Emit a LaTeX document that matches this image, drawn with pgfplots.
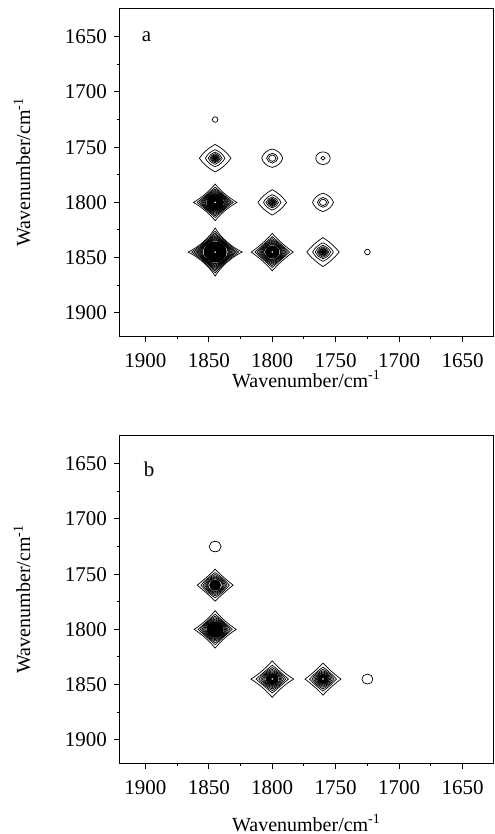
\documentclass[border=0pt]{standalone}
\usepackage{fontspec}
\setmainfont{Liberation Serif}
\usepackage{pgfplots}
\usepackage{pgfplotstable}
\pgfplotsset{compat=1.18}

% peak tables: x y rx ry (pt) n rings, inner size fraction, outer shape m, core radius (pt), white dot
\pgfplotstableread{
x    y    rx    ry    n  fin   m     core dot
1845 1725 1.4   1.4   1  1     2     0    0
1845 1760 7.9   6.9   9  0.1   1.3   0.7  0
1800 1760 5.25  4.6   3  0.35  1.7   0    0
1760 1760 3.6   3.15  2  0.3   2.0   0    0
1845 1800 10.85 9.15  8  0.45  0.4   4.4  1
1800 1800 7.15  6.35  8  0.12  1.3   0.5  0
1760 1800 5.25  4.6   3  0.35  1.6   0    0
1845 1845 13.5  12.0  10 0.48  0.1   5.8  1
1800 1845 10.5  9.35  9  0.4   0.6   3.6  1
1760 1845 8.1   7.25  9  0.12  1.2   0.8  0
1725 1845 1.4   1.4   1  1     2     0    0
}\peaksA

\pgfplotstableread{
x    y    rx    ry    n  fin   m     core dot
1845 1725 3.0   2.6   1  1     2     0    0
1845 1760 9.0   8.0   7  0.4   0.8   3.0  0
1845 1800 10.5  9.35  7  0.45  0.5   4.3  0
1800 1845 10.65 9.15  7  0.35  0.5   3.2  1
1760 1845 9.0   8.0   7  0.33  0.7   2.7  1
1725 1845 2.75  2.5   1  1     2     0    0
}\peaksB

\pgfdeclareplotmark{ctr}{%
  \pgfmathtruncatemacro\cNm{\cN-1}%
  \foreach \k in {0,...,\cNm}{%
    \ifnum\k=0 \def\cS{1}\def\cT{0}\def\cTh{0}\else
      \pgfmathsetmacro\cT{\k/\cNm}%
      \pgfmathsetmacro\cTh{sqrt(\cT)}%
      \pgfmathsetmacro\cS{exp(ln(\cIn)*exp(0.75*ln(\cT)))}%
    \fi
    \pgfmathsetmacro\cMM{\cM+(1.8-\cM)*\cTh}%
    \pgfmathsetmacro\cA{\cMM<1 ? 0.6+0.0667*\cMM : 0.6667+0.3333*(\cMM-1)}%
    \pgfmathsetmacro\cB{\cMM<1 ? 0.2+0.1333*\cMM : 0.3333+0.219*(\cMM-1)}%
    \pgfmathsetmacro\X{\cRx*\cS}%
    \pgfmathsetmacro\Y{\cRy*\cS}%
    \pgfmathsetmacro\xa{\cA*\X}\pgfmathsetmacro\xb{\cB*\X}%
    \pgfmathsetmacro\ya{\cA*\Y}\pgfmathsetmacro\yb{\cB*\Y}%
    \pgfpathmoveto{\pgfpoint{\X pt}{0pt}}%
    \pgfpathcurveto{\pgfpoint{\xa pt}{\yb pt}}{\pgfpoint{\xb pt}{\ya pt}}{\pgfpoint{0pt}{\Y pt}}%
    \pgfpathcurveto{\pgfpoint{-\xb pt}{\ya pt}}{\pgfpoint{-\xa pt}{\yb pt}}{\pgfpoint{-\X pt}{0pt}}%
    \pgfpathcurveto{\pgfpoint{-\xa pt}{-\yb pt}}{\pgfpoint{-\xb pt}{-\ya pt}}{\pgfpoint{0pt}{-\Y pt}}%
    \pgfpathcurveto{\pgfpoint{\xb pt}{-\ya pt}}{\pgfpoint{\xa pt}{-\yb pt}}{\pgfpoint{\X pt}{0pt}}%
    \pgfpathclose
    \pgfusepath{stroke}%
  }%
  \pgfmathsetmacro\cCy{0.92*\cC}%
  \ifdim\cC pt>0pt
    \pgfscope
    \pgfsetfillcolor{black}%
    \pgfpathellipse{\pgfpointorigin}{\pgfpoint{\cC pt}{0pt}}{\pgfpoint{0pt}{\cCy pt}}%
    \pgfusepath{fill}%
    \endpgfscope
  \fi
  \ifdim\cD pt>0pt
    \pgfscope
    \pgfsetfillcolor{white}%
    \pgfpathcircle{\pgfpointorigin}{0.45pt}%
    \pgfusepath{fill}%
    \endpgfscope
  \fi
}

\pgfplotsset{
  myax/.style={
    scale only axis, width=186.5pt, height=164pt,
    xmin=1626, xmax=1920, ymin=1624, ymax=1921,
    x dir=reverse, y dir=reverse,
    xtick={1650,1700,...,1900}, ytick={1650,1700,...,1900},
    minor tick num=1,
    tick align=outside, tick pos=left,
    major tick length=3pt, minor tick length=1.5pt,
    axis line style={line width=0.5pt},
    every tick/.style={line width=0.5pt, black},
    tick label style={font=\fontsize{10.5}{12}\selectfont},
    xticklabel style={yshift=-2pt},
    label style={font=\fontsize{10.5}{12}\selectfont},
    /pgf/number format/assume math mode=true,
    /pgf/number format/1000 sep={},
    xlabel={Wavenumber/cm\textsuperscript{-1}},
    ylabel={Wavenumber/cm\textsuperscript{-1}},
    every axis y label/.style={at={([xshift=-49pt]axis description cs:0,0.5)}, rotate=90, anchor=center},
  },
  pk/.style={
    scatter, only marks, mark=ctr, line width=0.35pt,
    scatter/use mapped color={draw=black, fill=black},
    visualization depends on={\thisrow{rx} \as \cRx},
    visualization depends on={\thisrow{ry} \as \cRy},
    visualization depends on={\thisrow{n} \as \cN},
    visualization depends on={\thisrow{fin} \as \cIn},
    visualization depends on={\thisrow{m} \as \cM},
    visualization depends on={\thisrow{core} \as \cC},
    visualization depends on={\thisrow{dot} \as \cD},
  },
}

\begin{document}
\begin{tikzpicture}
\path[use as bounding box] (0pt,0pt) rectangle (247pt,-417pt);
\begin{axis}[myax, at={(60pt,-4pt)}, anchor=north west,
  every axis x label/.style={at={([yshift=-21.5pt]axis description cs:0.5,0)}, anchor=center}]
\addplot[pk] table[x=x, y=y] {\peaksA};
\node[font=\fontsize{10.5}{12}\selectfont] at (axis cs:1899,1650) {a};
\end{axis}
\begin{axis}[myax, at={(60pt,-217.5pt)}, anchor=north west,
  every axis x label/.style={at={([yshift=-30pt]axis description cs:0.5,0)}, anchor=center}]
\addplot[pk] table[x=x, y=y] {\peaksB};
\node[font=\fontsize{10.5}{12}\selectfont] at (axis cs:1897,1655) {b};
\end{axis}
\end{tikzpicture}
\end{document}
